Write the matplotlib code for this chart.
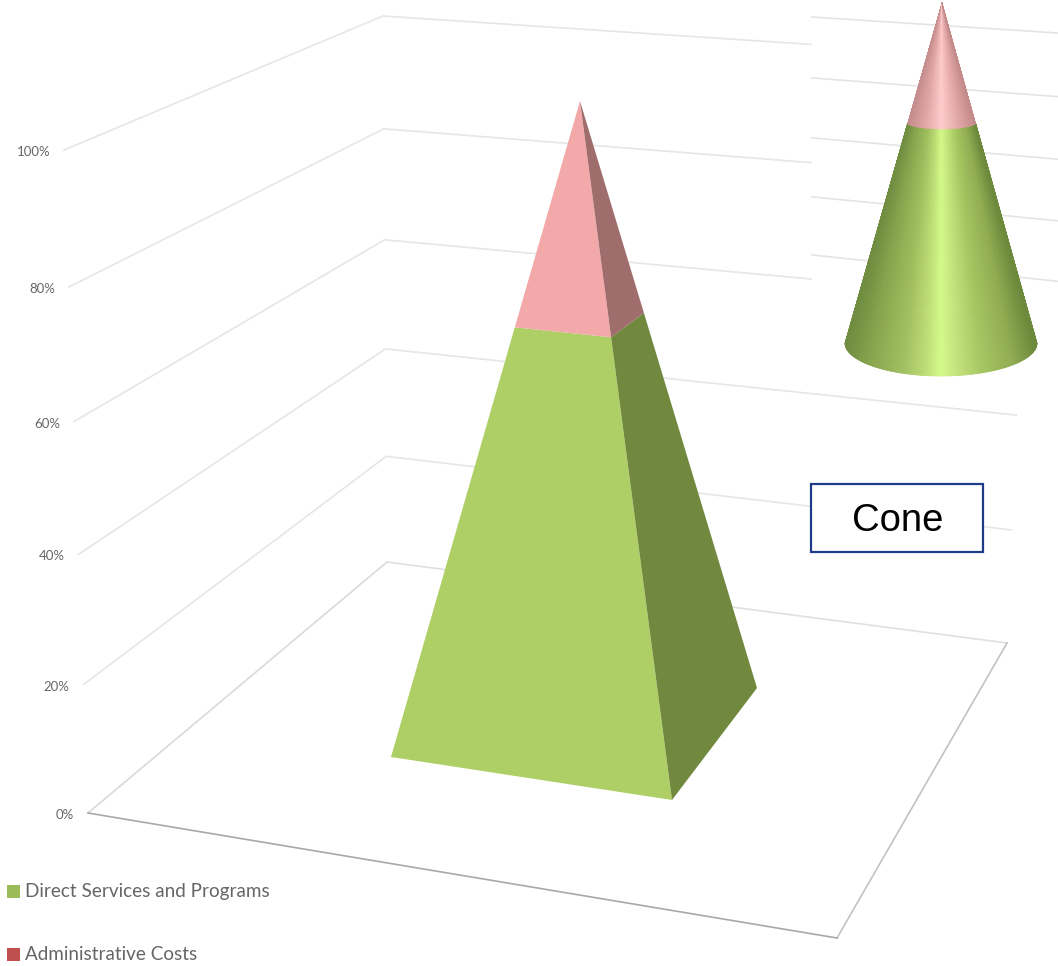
import matplotlib
matplotlib.use("Agg")
import numpy as np
import matplotlib.pyplot as plt
from matplotlib.collections import PolyCollection
from matplotlib.colors import LinearSegmentedColormap
from matplotlib.patches import Rectangle

# Chart values
series_names = ["Direct Services and Programs", "Administrative Costs"]
direct_services = 66
administrative_costs = 34
ticks = [0, 20, 40, 60, 80, 100]
tick_labels = ["0%", "20%", "40%", "60%", "80%", "100%"]
inset_ticks = [20, 40, 60, 80, 100]

# Scene geometry, in picture pixels
wall_left = ((88, 813), (64, 150))
wall_back = ((387, 562), (383, 16))
wall_right = ((1007, 643), (1031, 59))
inset_left = ((812, 312), (812, 17))
inset_right = ((1058, 341), (1058, 33))
PERSPECTIVE = 0.96


# Height in percent -> point along a vertical edge, with a little foreshortening
def along(edge, pct, w=PERSPECTIVE):
    t = pct / 100
    s = t * w / (t * w + (1 - t))
    start = np.array(edge[0], dtype=float)
    end = np.array(edge[1], dtype=float)
    return start + (end - start) * s


fig = plt.figure(figsize=(10.58, 9.66), dpi=100)
ax = fig.add_axes([0, 0, 1, 1])
ax.set_xlim(0, 1058)
ax.set_ylim(966, 0)
ax.axis("off")

# Floor
floor = [wall_left[0], wall_back[0], wall_right[0], (837, 938)]
floor_colors = ["#dadada", "#e0e0e0", "#c2c2c2", "#a9a9a9"]
for i in range(4):
    p = floor[i]
    q = floor[(i + 1) % 4]
    ax.plot([p[0], q[0]], [p[1], q[1]], color=floor_colors[i], lw=1.2, zorder=1)

# Walls
for pct, label in zip(ticks, tick_labels):
    a = along(wall_left, pct)
    b = along(wall_back, pct)
    c = along(wall_right, pct)
    if pct > 0:
        ax.plot([a[0], b[0], c[0]], [a[1], b[1], c[1]], color="#e6e6e6", lw=1.2, zorder=1)
    ax.text(a[0] - 14, a[1] + 2, label, ha="right", va="center", fontsize=9.5,
            color="#666666", family=["Lato", "DejaVu Sans"])

# Pyramid
apex = np.array((580, 101), dtype=float)
pyr_left = (391, 757)
pyr_front = (672, 800)
pyr_right = (757, 688)
split_left = along((pyr_left, apex), direct_services, 0.978)
split_front = along((pyr_front, apex), direct_services, 1.009)
split_right = along((pyr_right, apex), direct_services, 0.912)

ax.fill(*zip(pyr_left, pyr_front, split_front, split_left), color="#aecf66", lw=0, zorder=3)
ax.fill(*zip(pyr_front, pyr_right, split_right, split_front), color="#71893f", lw=0, zorder=3)
ax.fill(*zip(split_left, split_front, apex), color="#f3a9a9", lw=0, zorder=3)
ax.fill(*zip(split_front, split_right, apex), color="#a06d6d", lw=0, zorder=3)

# Cone picture pasted over the right side of the chart
ax.add_patch(Rectangle((812, 0), 246, 380, facecolor="white", edgecolor="none", zorder=4))
for pct in inset_ticks:
    a = along(inset_left, pct)
    b = along(inset_right, pct)
    ax.plot([a[0], b[0]], [a[1], b[1]], color="#e4e4e4", lw=1.2, zorder=5)

green_shade = LinearSegmentedColormap.from_list("green_shade", [
    (0.0, "#6f8c40"), (0.12, "#86a34d"), (0.3, "#a0bf5e"), (0.42, "#bddd75"), (0.5, "#d4f98a"),
    (0.58, "#c4e57c"), (0.72, "#a5c560"), (0.88, "#8fac52"), (1.0, "#6c893c")])
pink_shade = LinearSegmentedColormap.from_list("pink_shade", [
    (0.0, "#c48c8c"), (0.25, "#e0a4a4"), (0.5, "#ffcbcb"), (0.75, "#e4a8a8"), (1.0, "#c48a8a")])

cone_apex = np.array((942, 3), dtype=float)
cone_base = np.array((941, 343), dtype=float)
cone_a = 96
cone_b = 33
split_b = 6
split = along((cone_base, cone_apex), direct_services, 0.944)
split_ratio = (cone_base[1] - split[1]) / (cone_base[1] - cone_apex[1])

angles = np.linspace(np.pi, 0, 241)
green_polys = []
pink_polys = []
shade = []
for t0, t1 in zip(angles[:-1], angles[1:]):
    b0 = cone_base + np.array((cone_a * np.cos(t0), cone_b * np.sin(t0)))
    b1 = cone_base + np.array((cone_a * np.cos(t1), cone_b * np.sin(t1)))
    half = cone_a * (1 - split_ratio)
    s0 = split + np.array((half * np.cos(t0), split_b * np.sin(t0)))
    s1 = split + np.array((half * np.cos(t1), split_b * np.sin(t1)))
    green_polys.append([b0, b1, s1, s0])
    pink_polys.append([s0, s1, cone_apex])
    shade.append((np.cos((t0 + t1) / 2) + 1) / 2)

green_part = PolyCollection(green_polys, facecolors=green_shade(shade), edgecolors=green_shade(shade),
                            linewidths=0.5, zorder=6)
pink_part = PolyCollection(pink_polys, facecolors=pink_shade(shade), edgecolors=pink_shade(shade),
                           linewidths=0.2, zorder=6)
ax.add_collection(green_part)
ax.add_collection(pink_part)

# Label box
ax.add_patch(Rectangle((811, 484), 172, 68, facecolor="white", edgecolor="#1f3c88", lw=1.6, zorder=7))
ax.text(898, 521, "Cone", ha="center", va="center", fontsize=27.5, color="black",
        family=["Liberation Sans", "DejaVu Sans"], zorder=8)

# Legend
legend_colors = ["#9bbb59", "#c0504d"]
legend_y = [891, 954]
for name, col, y in zip(series_names, legend_colors, legend_y):
    ax.add_patch(Rectangle((7, y - 6.5), 13, 13, facecolor=col, edgecolor="none"))
    ax.text(25, y, name, ha="left", va="center", fontsize=13.6, color="#666666",
            family=["Lato", "DejaVu Sans"])

fig.savefig("out.png", dpi=100)
